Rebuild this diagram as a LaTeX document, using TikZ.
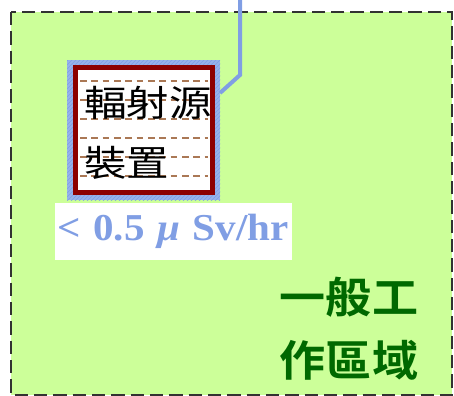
\documentclass[tikz,border=0pt]{standalone}
\usepackage{fontspec}
\setmainfont{Liberation Serif}
\newfontfamily\cjk[FakeStretch=1.18]{Noto Sans CJK TC}
\newfontfamily\cjkbold[FakeStretch=1.08]{Noto Sans CJK TC Bold}
\newfontfamily\dosefont[FakeStretch=1.08]{Liberation Serif}
\usetikzlibrary{patterns}
\definecolor{areagreen}{RGB}{204,255,153}
\definecolor{edgegray}{RGB}{50,50,50}
\definecolor{wireblue}{RGB}{128,158,228}
\definecolor{bandblue}{RGB}{150,178,235}
\definecolor{boxred}{RGB}{140,0,0}
\definecolor{dashbrown}{RGB}{170,120,85}
\definecolor{zonegreen}{RGB}{0,105,0}
\tikzset{wire/.style={wireblue,line width=3pt}}
\begin{document}
\begin{tikzpicture}[x=.75pt,y=-.75pt]
\useasboundingbox (0,0) rectangle (454,396);
\fill[areagreen] (11,12) rectangle (452,395);
\draw[edgegray,line width=1.9pt,dash pattern=on 10pt off 4.5pt] (11,12) rectangle (452,395);
\node[preaction={fill=bandblue},pattern=north east lines,pattern color=wireblue,minimum width=114.75pt,minimum height=105pt,inner sep=0,outer sep=0] (shield) at (143.5,130) {};
\node[draw=boxred,line width=3.75pt,fill=white,minimum width=102.75pt,minimum height=93.75pt,inner sep=0] (src) at (144,130) {};
\foreach \y in {81,100,...,176}{\draw[dashbrown,line width=1.5pt,dash pattern=on 5pt off 3.5pt] (80,\y)--(208,\y);}
\node[anchor=west,align=left,inner sep=0,font=\cjk\fontsize{27}{45}\selectfont] (srctext) at (84,133) {輻射源\\裝置};
\coordinate (feed) at (240,-2);
\draw[wire] (feed)--(240,75)--(shield.east |- 0,93);
\node[fill=white,anchor=west,inner xsep=1.5pt,text width=174.75pt,align=left,minimum height=42.75pt,text=wireblue,font=\dosefont\bfseries\fontsize{28.5}{32}\selectfont] (dose) at (55,231.5) {< 0.5 {\itshape μ} Sv/hr};
\node[align=center,inner sep=0,text=zonegreen,font=\cjkbold\fontsize{32}{47}\selectfont] (zone) at (349,329) {一般工\\作區域};
\end{tikzpicture}
\end{document}
